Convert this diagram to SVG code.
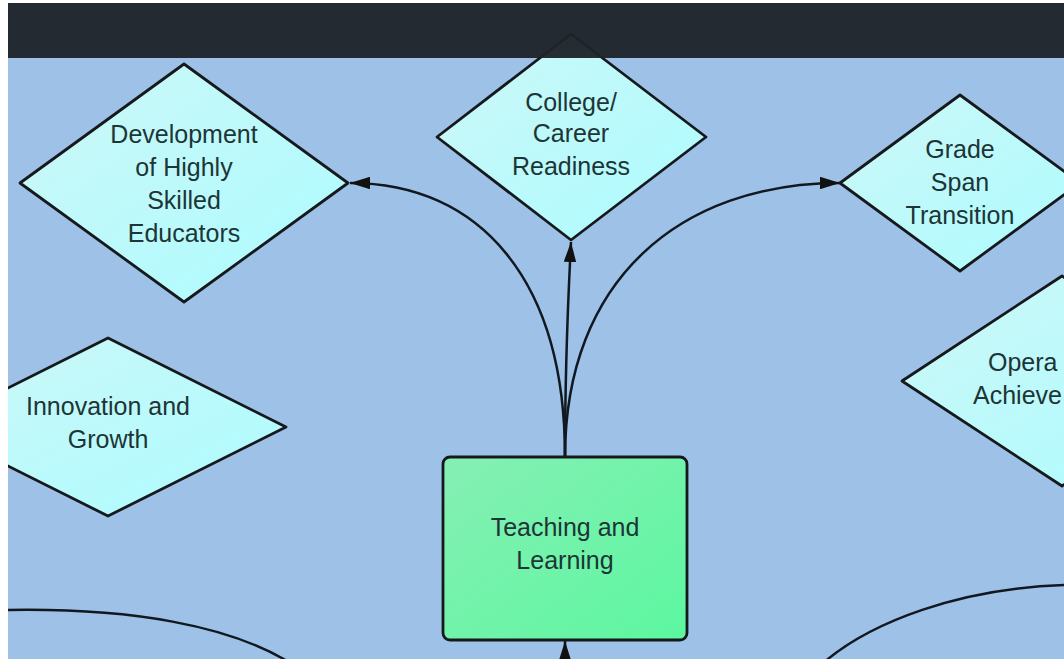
<svg xmlns="http://www.w3.org/2000/svg" width="1064" height="659" viewBox="0 0 1064 659">
<style>
.dia{fill:url(#cyan);stroke:#16191c;stroke-width:2.8;stroke-linejoin:round}
.box{fill:url(#green);stroke:#16191c;stroke-width:2.8}
.t{font-family:"Liberation Sans",Arial,sans-serif;font-size:25px;fill:#1d3536;text-anchor:middle}
.ts{font-family:"Liberation Sans",Arial,sans-serif;font-size:25px;fill:#1d3536}
.c{fill:none;stroke:#111820;stroke-width:2.5}
</style>
<defs>
<linearGradient id="cyan" x1="0" y1="0" x2="1" y2="1">
<stop offset="0" stop-color="#cdf7f7"/><stop offset="1" stop-color="#acfcff"/>
</linearGradient>
<linearGradient id="green" x1="0" y1="0" x2="1" y2="1">
<stop offset="0" stop-color="#86efb4"/><stop offset="1" stop-color="#5cf7a0"/>
</linearGradient>
<marker id="arr" viewBox="0 0 16 10" refX="16" refY="5" markerWidth="8" markerHeight="5" markerUnits="strokeWidth" orient="auto">
<path d="M0,0 L16,5 L0,10 z" fill="#111"/>
</marker>
<clipPath id="area"><rect x="8" y="3" width="1056" height="656"/></clipPath>
</defs>
<rect width="1064" height="659" fill="#ffffff"/>
<g clip-path="url(#area)">
<rect x="8" y="3" width="1056" height="656" fill="#9dc1e7"/>
<g id="connectors">
<path class="c" d="M565,457 C565,280 480,183 350,183" marker-end="url(#arr)"/>
<path class="c" d="M565,457 C565,380 568,300 571,242" marker-end="url(#arr)"/>
<path class="c" d="M565,457 C565,280 680,183 840,183" marker-end="url(#arr)"/>
<path class="c" d="M565,670 L565,641" marker-end="url(#arr)"/>
<path class="c" d="M8,610 C130,608 230,625 292,664"/>
<path class="c" d="M1066,585 C960,588 870,622 822,664"/>
</g>
<g id="node-development">
<path class="dia" d="M184,64 L348,183 L184,302 L20,183 Z"/>
<text class="t" x="184" y="143">Development</text>
<text class="t" x="184" y="176">of Highly</text>
<text class="t" x="184" y="209">Skilled</text>
<text class="t" x="184" y="242">Educators</text>
</g>
<g id="node-college">
<path class="dia" d="M571,34 L706,137 L571,240 L437,137 Z"/>
<text class="t" x="571" y="111">College/</text>
<text class="t" x="571" y="142">Career</text>
<text class="t" x="571" y="175">Readiness</text>
</g>
<g id="node-grade">
<path class="dia" d="M960,95 L1080,183 L960,271 L840,183 Z"/>
<text class="t" x="960" y="158">Grade</text>
<text class="t" x="960" y="191">Span</text>
<text class="t" x="960" y="224">Transition</text>
</g>
<g id="node-innovation">
<path class="dia" d="M108,338 L286,427 L108,516 L-70,427 Z"/>
<text class="t" x="108" y="415">Innovation and</text>
<text class="t" x="108" y="448">Growth</text>
</g>
<g id="node-operational">
<path class="dia" d="M1062,276 L1222,381 L1062,486 L902,381 Z"/>
<text class="ts" x="988" y="371">Opera</text>
<text class="ts" x="973" y="404">Achieve</text>
</g>
<g id="node-teaching">
<rect class="box" x="443" y="457" width="244" height="183" rx="7"/>
<text class="t" x="565" y="536">Teaching and</text>
<text class="t" x="565" y="569">Learning</text>
</g>
<rect x="8" y="3" width="1056" height="55" fill="#1e232a" fill-opacity="0.96"/>
</g>
</svg>
